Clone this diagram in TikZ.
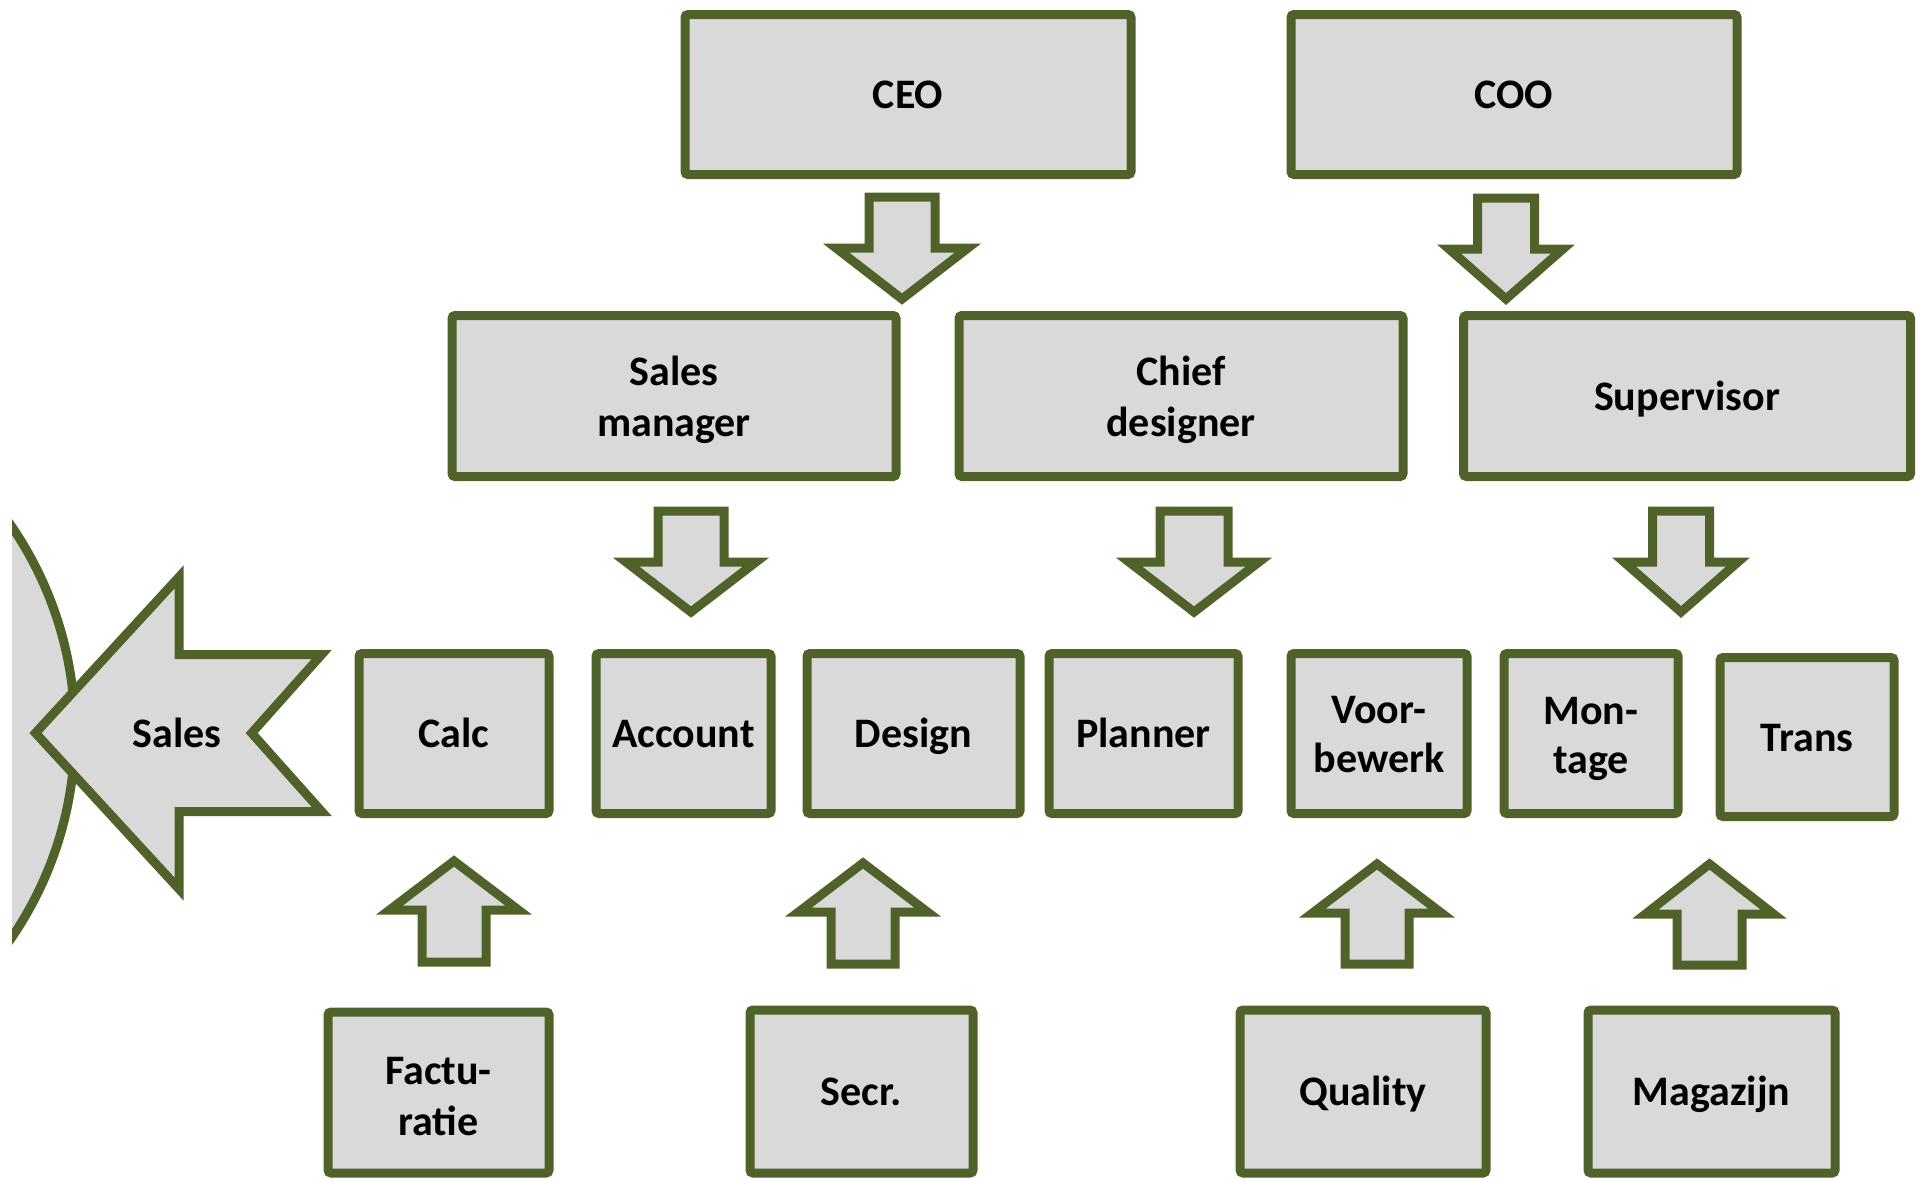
\documentclass[tikz,border=0pt]{standalone}
\usepackage{fontspec}
\setmainfont{Carlito}
\definecolor{bordergreen}{HTML}{4F6228}
\definecolor{boxfill}{HTML}{D9D9D9}
\tikzset{
  boxfont/.style={font=\fontsize{42}{51}\selectfont\bfseries},
  orgbox/.style={draw=bordergreen, fill=boxfill, line width=9pt, rounded corners=3pt,
    align=center, inner sep=0pt, boxfont, text height=37.8pt, text depth=9.2pt},
  boxlabel/.style={boxfont, align=center, inner sep=0pt},
  blockarrow/.style={draw=bordergreen, fill=boxfill, line width=9pt, line join=miter, miter limit=10}
}
% cx, shaft end, shaft half width, head y, head half width, tip y
\newcommand\blkarrow[6]{%
  \draw[blockarrow] (#1-#3,#2) -- (#1+#3,#2) -- (#1+#3,#4) -- (#1+#5,#4) -- (#1,#6)
    -- (#1-#5,#4) -- (#1-#3,#4) -- cycle;}
\begin{document}
\begin{tikzpicture}[x=1pt,y=-1pt]
\useasboundingbox (0,0) rectangle (1916,1178);
\clip (0,0) rectangle (1916,1178);

% half circle on the left
\begin{scope}
  \clip (12,0) rectangle (1916,1178);
  \draw[blockarrow] (-290,732) circle[radius=365];
\end{scope}

% Sales arrow
\draw[blockarrow] (35.5,733) -- (179,577) -- (179,654.5) -- (321.7,654.5) -- (251.7,733)
  -- (321.7,811.5) -- (179,811.5) -- (179,889) -- cycle;
\node[boxlabel, text height=37.8pt, text depth=9.2pt] (sales) at (177,733) {Sales};

% top row
\node[orgbox, minimum width=446pt, minimum height=160pt] (ceo) at (908,94.5) {CEO};
\node[orgbox, minimum width=446pt, minimum height=160pt] (coo) at (1514,94.5) {COO};

% second row
\node[orgbox, minimum width=444pt, minimum height=161pt] (salesman) at (674,396) {};
\node[boxlabel] (salesmanlabel) at (674,400) {Sales\\manager};
\node[orgbox, minimum width=444pt, minimum height=161pt] (chief) at (1181,396) {};
\node[boxlabel] (chieflabel) at (1181,400) {Chief\\designer};
\node[orgbox, minimum width=447pt, minimum height=161pt] (super) at (1687,396) {Supervisor};

% third row
\node[orgbox, minimum width=190pt, minimum height=160pt] (calc) at (454,733.5) {Calc};
\node[orgbox, minimum width=175pt, minimum height=160pt] (account) at (683.5,733.5) {Account};
\node[orgbox, minimum width=213pt, minimum height=160pt] (design) at (913.5,733.5) {Design};
\node[orgbox, minimum width=189pt, minimum height=160pt] (planner) at (1143.5,733.5) {Planner};
\node[orgbox, minimum width=176pt, minimum height=160pt] (voor) at (1379,733.5) {};
\node[boxlabel, font=\fontsize{42}{49}\selectfont\bfseries] (voorlabel) at (1379,735) {Voor-\\bewerk};
\node[orgbox, minimum width=174pt, minimum height=160pt] (montage) at (1591,733.5) {};
\node[boxlabel, font=\fontsize{42}{49}\selectfont\bfseries] (montagelabel) at (1591,738.5) {Mon-\\tage};
\node[orgbox, minimum width=174pt, minimum height=159pt] (trans) at (1807,737) {Trans};

% bottom row
\node[orgbox, minimum width=221pt, minimum height=161pt] (fact) at (438.5,1092.5) {};
\node[boxlabel] (factlabel) at (438.5,1097) {Factu-\\ratie};
\node[orgbox, minimum width=223pt, minimum height=163pt] (secr) at (861.5,1091.5) {Secr.};
\node[orgbox, minimum width=246pt, minimum height=163pt] (quality) at (1363,1091.5) {Quality};
\node[orgbox, minimum width=247pt, minimum height=163pt] (magazijn) at (1711.5,1091.5) {Magazijn};

% down arrows
\blkarrow{902}{197}{33}{248}{66}{299}
\blkarrow{1506}{198}{28.5}{249}{57}{299}
\blkarrow{691}{511}{33}{562}{65}{612}
\blkarrow{1194}{511}{34}{562}{65}{612}
\blkarrow{1681}{511}{28.5}{562}{57}{612}

% up arrows
\blkarrow{454}{962}{32}{910}{64.5}{861}
\blkarrow{863}{964}{32}{912}{64.5}{863}
\blkarrow{1377}{964}{32}{913}{64.5}{864}
\blkarrow{1709.5}{965}{32.5}{914}{64}{864}
\end{tikzpicture}
\end{document}
